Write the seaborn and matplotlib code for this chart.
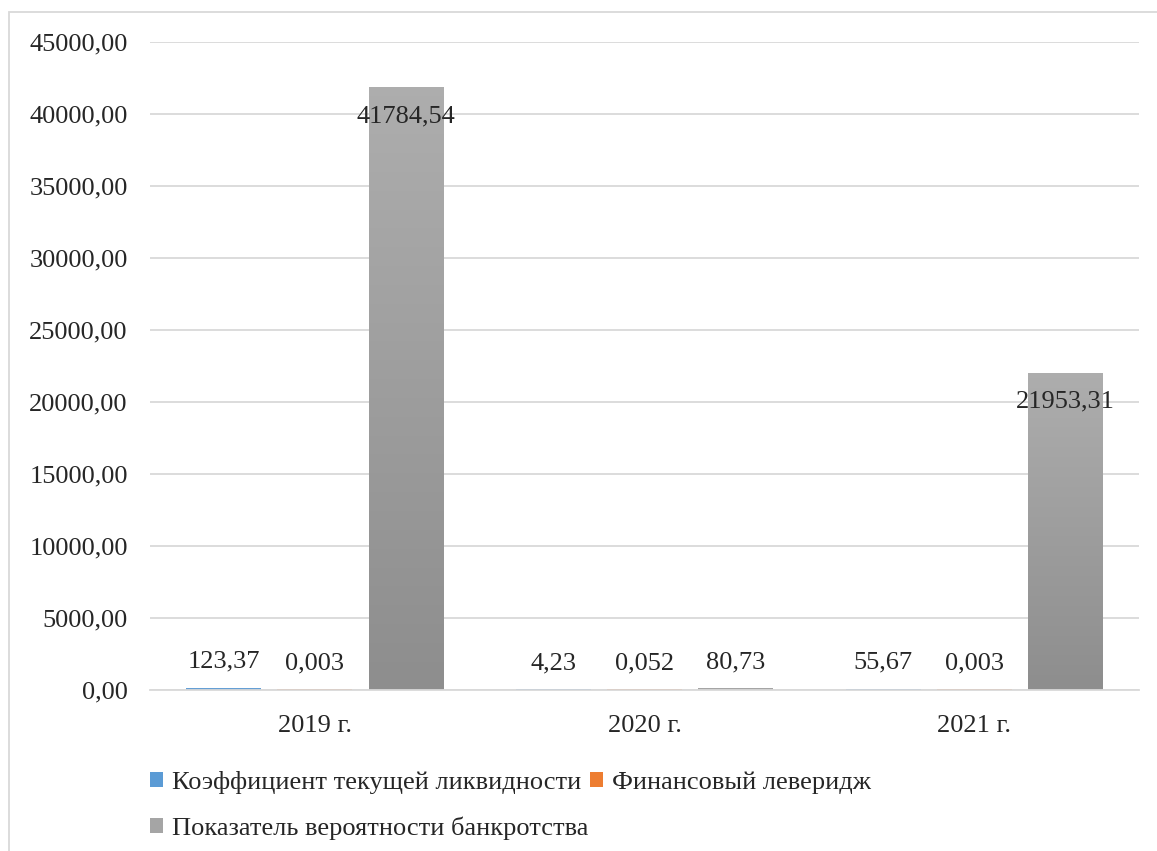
import numpy as np
import pandas as pd
import matplotlib
matplotlib.use('Agg')
import matplotlib.pyplot as plt
import seaborn as sns
from matplotlib.patches import Rectangle, Patch
from matplotlib.colors import LinearSegmentedColormap
from matplotlib.ticker import FuncFormatter

## Dados
anos = ['2019 г.', '2020 г.', '2021 г.']
series = ['Коэффициент текущей ликвидности', 'Финансовый леверидж',
          'Показатель вероятности банкротства']
liquidez = [123.37, 4.23, 55.67]
alavancagem = [0.003, 0.052, 0.003]
falencia = [41784.54, 80.73, 21953.31]
rotulos = [['123,37', '4,23', '55,67'],
           ['0,003', '0,052', '0,003'],
           ['41784,54', '80,73', '21953,31']]

cores = ['#5b9bd5', '#ed7d31', '#a5a5a5']
grad = {'#5b9bd5': ('#6fa8dc', '#4a88c4'),
        '#ed7d31': ('#f58f4a', '#d86a22'),
        '#a5a5a5': ('#adadad', '#8e8e8e')}

df = pd.DataFrame({
    'ano': anos * 3,
    'serie': [series[0]] * 3 + [series[1]] * 3 + [series[2]] * 3,
    'valor': liquidez + alavancagem + falencia,
})

## Figura
sns.set_style('white')
plt.rcParams['font.family'] = ['Liberation Serif', 'DejaVu Serif']
fonte = 19

fig = plt.figure(figsize=(11.57, 8.51), dpi=100)
ax = fig.add_axes([0.1296, 0.189, 0.855, 0.762])

sns.barplot(data=df, x='ano', y='valor', hue='serie', hue_order=series,
            palette=cores, width=0.83, gap=0.18, ax=ax, legend=False,
            saturation=1, edgecolor='none')

# gradiente nas barras + rótulos
for i, cont in enumerate(ax.containers):
    c0, c1 = grad[cores[i]]
    cmap = LinearSegmentedColormap.from_list('g%d' % i, [c1, c0])
    for j, bar in enumerate(cont):
        x0, y0 = bar.get_x(), bar.get_y()
        w, h = bar.get_width(), bar.get_height()
        bar.set_facecolor('none')
        ax.imshow(np.linspace(0, 1, 64).reshape(-1, 1),
                  extent=[x0, x0 + w, y0, y0 + h], origin='lower',
                  aspect='auto', cmap=cmap, zorder=2)
        val = df[df['serie'] == series[i]]['valor'].iloc[j]
        desloc = -28 if val > 1000 else 27
        ax.annotate(rotulos[i][j], (x0 + w / 2, y0 + h), xytext=(0, desloc),
                    textcoords='offset pixels', ha='center', va='center',
                    fontsize=fonte, family='Liberation Serif', zorder=5)

ax.set_ylim(0, 45000)
ax.set_xlim(-0.5, 2.5)
ax.set_aspect('auto')

ax.yaxis.set_major_formatter(FuncFormatter(lambda v, p: f'{v:.2f}'.replace('.', ',')))
ax.set_yticks(np.arange(0, 45001, 5000))
ax.grid(axis='y', color='#d9d9d9', linewidth=1.3)
ax.set_axisbelow(True)
for s in ['top', 'right', 'left']:
    ax.spines[s].set_visible(False)
ax.spines['bottom'].set_color('#d9d9d9')
ax.spines['bottom'].set_linewidth(1.3)
ax.tick_params(axis='both', length=0, labelsize=fonte)
ax.tick_params(axis='x', pad=18)
ax.tick_params(axis='y', pad=16)
ax.set_xlabel('')
ax.set_ylabel('')

# legenda
handles = [Patch(facecolor=c, edgecolor='none') for c in cores]
ordem = [0, 2, 1]
fig.legend([handles[k] for k in ordem], [series[k] for k in ordem],
           ncol=2, loc='upper left', bbox_to_anchor=(0.118, 0.11),
           frameon=False, prop={'family': 'Liberation Serif', 'size': fonte},
           handlelength=0.5, handleheight=0.5, handletextpad=0.35,
           columnspacing=0.05, labelspacing=0.85, borderpad=0)

# moldura
fig.add_artist(Rectangle((0.008, -0.01), 1.2, 0.996, transform=fig.transFigure,
                         fill=False, edgecolor='#d9d9d9', linewidth=1.3))

plt.savefig('out.png', dpi=100)
